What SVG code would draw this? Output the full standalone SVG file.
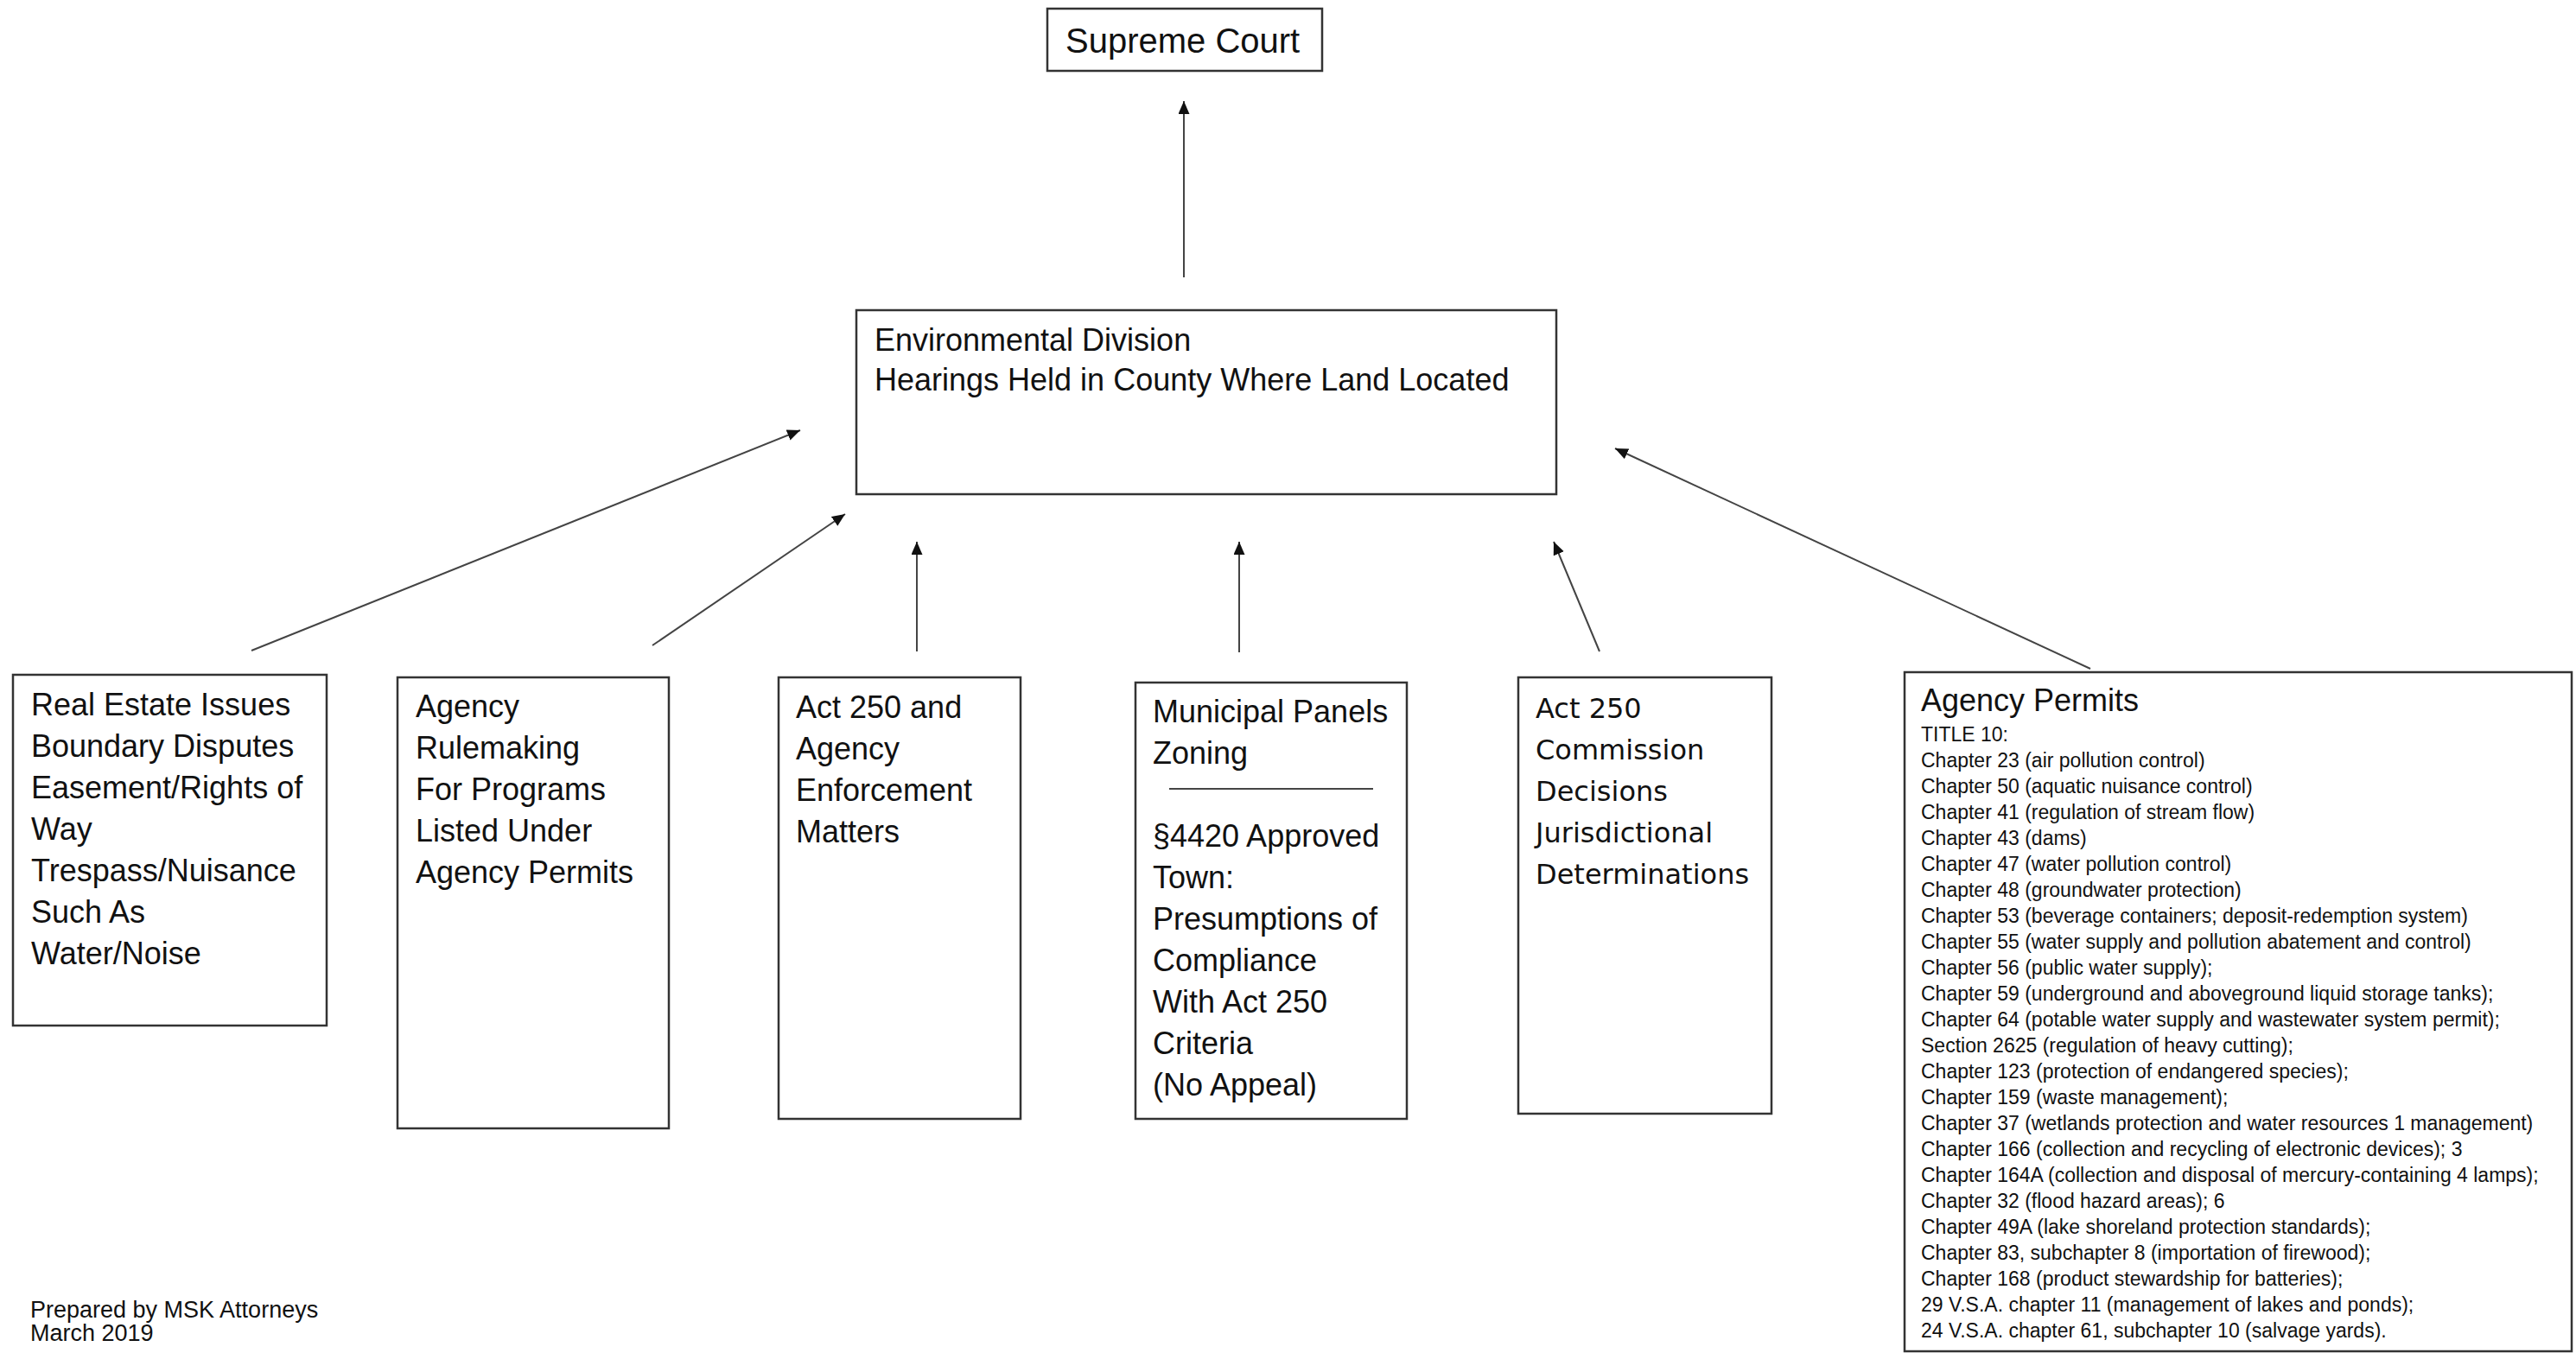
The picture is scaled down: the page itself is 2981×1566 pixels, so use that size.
<svg xmlns="http://www.w3.org/2000/svg" width="2981" height="1566" viewBox="0 0 2981 1566">
<style>
.box{fill:#fff;stroke:#333;stroke-width:2.5}
.t{font-family:"Liberation Sans",Arial,sans-serif;font-size:36px;fill:#111}
.v{font-family:"DejaVu Sans",Verdana,sans-serif;font-size:32px;fill:#111}
.s{font-family:"Liberation Sans",Arial,sans-serif;font-size:23px;fill:#111}
.c{stroke:#444;stroke-width:2;fill:none;marker-end:url(#ah)}
</style>
<defs>
<marker id="ah" markerUnits="userSpaceOnUse" markerWidth="16" markerHeight="14" refX="15" refY="6.5" orient="auto">
<path d="M0,0 L15,6.5 L0,13 z" fill="#111"/>
</marker>
</defs>
<rect width="2981" height="1566" fill="#fff"/>
<g id="connectors">
<line class="c" x1="1370" y1="321" x2="1370" y2="117"/>
<line class="c" x1="291" y1="753" x2="926" y2="498"/>
<line class="c" x1="755" y1="747" x2="978" y2="595"/>
<line class="c" x1="1061" y1="754" x2="1061" y2="627"/>
<line class="c" x1="1434" y1="755" x2="1434" y2="627"/>
<line class="c" x1="1851" y1="754" x2="1798" y2="627"/>
<line class="c" x1="2419" y1="774" x2="1869" y2="519"/>
</g>
<g id="supreme-court">
<rect class="box" x="1212" y="10" width="318" height="72"/>
<text class="t" x="1233" y="61" style="font-size:40px">Supreme Court</text>
</g>
<g id="environmental-division">
<rect class="box" x="991" y="359" width="810" height="213"/>
<text class="t" x="1012" y="406">Environmental Division</text>
<text class="t" x="1012" y="452">Hearings Held in County Where Land Located</text>
</g>
<g id="real-estate">
<rect class="box" x="15" y="781" width="363" height="406"/>
<text class="t" x="36" y="828">Real Estate Issues</text>
<text class="t" x="36" y="876">Boundary Disputes</text>
<text class="t" x="36" y="924">Easement/Rights of</text>
<text class="t" x="36" y="972">Way</text>
<text class="t" x="36" y="1020">Trespass/Nuisance</text>
<text class="t" x="36" y="1068">Such As</text>
<text class="t" x="36" y="1116">Water/Noise</text>
</g>
<g id="agency-rulemaking">
<rect class="box" x="460" y="784" width="314" height="522"/>
<text class="t" x="481" y="830">Agency</text>
<text class="t" x="481" y="878">Rulemaking</text>
<text class="t" x="481" y="926">For Programs</text>
<text class="t" x="481" y="974">Listed Under</text>
<text class="t" x="481" y="1022">Agency Permits</text>
</g>
<g id="act250-enforcement">
<rect class="box" x="901" y="784" width="280" height="511"/>
<text class="t" x="921" y="831">Act 250 and</text>
<text class="t" x="921" y="879">Agency</text>
<text class="t" x="921" y="927">Enforcement</text>
<text class="t" x="921" y="975">Matters</text>
</g>
<g id="municipal-panels">
<rect class="box" x="1314" y="790" width="314" height="505"/>
<text class="t" x="1334" y="836">Municipal Panels</text>
<text class="t" x="1334" y="884">Zoning</text>
<line x1="1353" y1="913" x2="1589" y2="913" stroke="#444" stroke-width="2"/>
<text class="t" x="1334" y="980">§4420 Approved</text>
<text class="t" x="1334" y="1028">Town:</text>
<text class="t" x="1334" y="1076">Presumptions of</text>
<text class="t" x="1334" y="1124">Compliance</text>
<text class="t" x="1334" y="1172">With Act 250</text>
<text class="t" x="1334" y="1220">Criteria</text>
<text class="t" x="1334" y="1268">(No Appeal)</text>
</g>
<g id="act250-commission">
<rect class="box" x="1757" y="784" width="293" height="505"/>
<text class="v" x="1777" y="831">Act 250</text>
<text class="v" x="1777" y="879">Commission</text>
<text class="v" x="1777" y="927">Decisions</text>
<text class="v" x="1777" y="975">Jurisdictional</text>
<text class="v" x="1777" y="1023">Determinations</text>
</g>
<g id="agency-permits">
<rect class="box" x="2204" y="778" width="772" height="786"/>
<text class="t" x="2223" y="823">Agency Permits</text>
<text class="s" x="2223" y="858">TITLE 10:</text>
<text class="s" x="2223" y="888">Chapter 23 (air pollution control)</text>
<text class="s" x="2223" y="918">Chapter 50 (aquatic nuisance control)</text>
<text class="s" x="2223" y="948">Chapter 41 (regulation of stream flow)</text>
<text class="s" x="2223" y="978">Chapter 43 (dams)</text>
<text class="s" x="2223" y="1008">Chapter 47 (water pollution control)</text>
<text class="s" x="2223" y="1038">Chapter 48 (groundwater protection)</text>
<text class="s" x="2223" y="1068">Chapter 53 (beverage containers; deposit-redemption system)</text>
<text class="s" x="2223" y="1098">Chapter 55 (water supply and pollution abatement and control)</text>
<text class="s" x="2223" y="1128">Chapter 56 (public water supply);</text>
<text class="s" x="2223" y="1158">Chapter 59 (underground and aboveground liquid storage tanks);</text>
<text class="s" x="2223" y="1188">Chapter 64 (potable water supply and wastewater system permit);</text>
<text class="s" x="2223" y="1218">Section 2625 (regulation of heavy cutting);</text>
<text class="s" x="2223" y="1248">Chapter 123 (protection of endangered species);</text>
<text class="s" x="2223" y="1278">Chapter 159 (waste management);</text>
<text class="s" x="2223" y="1308">Chapter 37 (wetlands protection and water resources 1 management)</text>
<text class="s" x="2223" y="1338">Chapter 166 (collection and recycling of electronic devices); 3</text>
<text class="s" x="2223" y="1368">Chapter 164A (collection and disposal of mercury-containing 4 lamps);</text>
<text class="s" x="2223" y="1398">Chapter 32 (flood hazard areas); 6</text>
<text class="s" x="2223" y="1428">Chapter 49A (lake shoreland protection standards);</text>
<text class="s" x="2223" y="1458">Chapter 83, subchapter 8 (importation of firewood);</text>
<text class="s" x="2223" y="1488">Chapter 168 (product stewardship for batteries);</text>
<text class="s" x="2223" y="1518">29 V.S.A. chapter 11 (management of lakes and ponds);</text>
<text class="s" x="2223" y="1548">24 V.S.A. chapter 61, subchapter 10 (salvage yards).</text>
</g>
<g id="footer">
<text class="t" x="35" y="1525" style="font-size:27px">Prepared by MSK Attorneys</text>
<text class="t" x="35" y="1552" style="font-size:27px">March 2019</text>
</g>
</svg>
